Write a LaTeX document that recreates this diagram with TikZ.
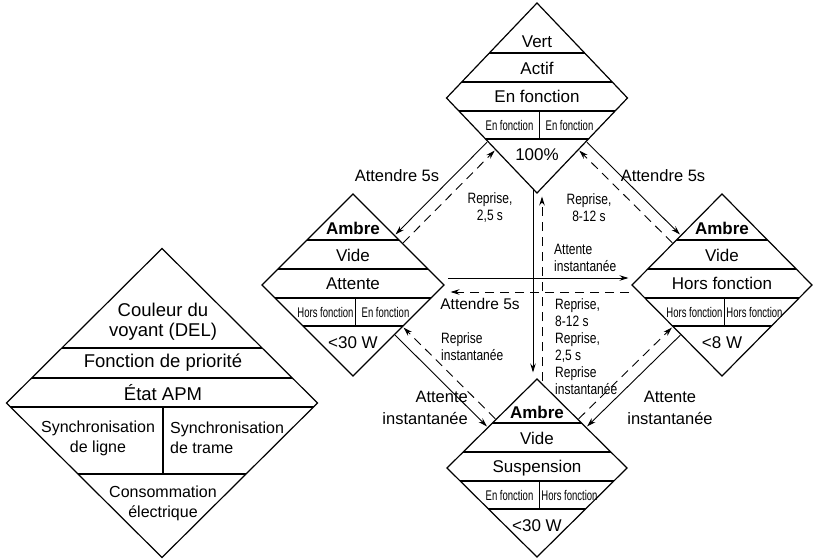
\documentclass[tikz,border=0pt]{standalone}
\usepackage{fontspec}
\setmainfont{Liberation Sans}
\usepackage{graphicx}
\usetikzlibrary{shapes.geometric,arrows.meta,calc}
\newcommand\cnd[1]{\scalebox{0.8}[1]{#1}}
\newcommand\sbx[1]{\scalebox{0.68}[1]{#1}}
\tikzset{
  stat/.style={diamond, draw, line width=1.2pt, inner sep=0pt, outer sep=0pt},
  sepline/.style={line width=1.2pt},
  st/.style={font=\fontsize{17}{20}\selectfont, inner sep=0pt, text height=12pt, text depth=0pt},
  subt/.style={font=\fontsize{14}{15}\selectfont, inner sep=0pt, text height=10pt, text depth=0pt},
  lg/.style={font=\fontsize{18.5}{20}\selectfont, inner sep=0pt, align=center},
  lgs/.style={font=\fontsize{16}{20}\selectfont, inner sep=0pt, align=center},
  lab/.style={font=\fontsize{16.5}{22}\selectfont, inner sep=0pt, align=center},
  cl/.style={font=\fontsize{15}{17}\selectfont, inner sep=0pt, align=center},
  sarr/.style={draw, line width=0.9pt, -{Stealth[length=9pt,width=5.5pt]}, shorten >=1.5pt, shorten <=1pt},
  darr/.style={sarr, dash pattern=on 9pt off 6pt}
}
\newcommand\stinner[7]{%
  \begin{scope}
    \clip (#1.north) -- (#1.east) -- (#1.south) -- (#1.west) -- cycle;
    \draw[sepline] ($(#1.center)+(-100,-45)$) -- ++(200,0)
      ($(#1.center)+(-100,-16)$) -- ++(200,0)
      ($(#1.center)+(-100,13)$) -- ++(200,0)
      ($(#1.center)+(-100,41)$) -- ++(200,0)
      ($(#1.center)+(2.5,13)$) -- ++(0,28);
  \end{scope}
  \node[st] (#1-a) at ($(#1.center)+(0,-56)$) {#2};
  \node[st] (#1-b) at ($(#1.center)+(0,-29.5)$) {#3};
  \node[st] (#1-c) at ($(#1.center)+(0,-1.5)$) {#4};
  \node[subt] (#1-d) at ($(#1.center)+(-27.5,27.5)$) {\sbx{#5}};
  \node[subt] (#1-e) at ($(#1.center)+(32.5,27.5)$) {\sbx{#6}};
  \node[st] (#1-f) at ($(#1.center)+(0,57)$) {#7};
}
\begin{document}
\begin{tikzpicture}[x=1pt, y=-1pt]
\useasboundingbox (0,0) rectangle (815,559);

% state diamonds
\node[stat, minimum width=181pt, minimum height=190pt] (T) at (537,98) {};
\node[stat, minimum width=182pt, minimum height=182pt] (L) at (353,285) {};
\node[stat, minimum width=180pt, minimum height=182pt] (R) at (722,285) {};
\node[stat, minimum width=180pt, minimum height=178pt] (B) at (537,468) {};

\stinner{T}{Vert}{Actif}{En fonction}{En fonction}{En fonction}{100\%}
\stinner{L}{\textbf{Ambre}}{Vide}{Attente}{Hors fonction}{En fonction}{<30 W}
\stinner{R}{\textbf{Ambre}}{Vide}{Hors fonction}{Hors fonction}{Hors fonction}{<8 W}
\stinner{B}{\textbf{Ambre}}{Vide}{Suspension}{En fonction}{Hors fonction}{<30 W}

% legend diamond
\node[stat, minimum width=311pt, minimum height=309pt] (G) at (162,403) {};
\begin{scope}
  \clip (G.north) -- (G.east) -- (G.south) -- (G.west) -- cycle;
  \draw[sepline] (0,348) -- (330,348) (0,378) -- (330,378) (0,407) -- (330,407)
    (0,474) -- (330,474) (163,407) -- (163,474);
\end{scope}
\node[lg] (g1) at (163,322) {Couleur du\\voyant (DEL)};
\node[lg] (g2) at (163,363) {Fonction de priorité};
\node[lg] (g3) at (163,393) {État APM};
\node[lgs] (g4) at (98,438) {Synchronisation\\de ligne};
\node[lgs, align=left, anchor=west] (g5) at (170,438) {Synchronisation\\de trame};
\node[lgs] (g6) at (163,503) {Consommation\\électrique};

% connectors: top <-> left
\draw[sarr] ($(T.south west)+(-4,-4)$) -- ($(L.north east)+(-4,-4)$);
\draw[darr] ($(L.north east)+(4,4)$) -- ($(T.south west)+(4,4)$);
% top <-> right
\draw[sarr] ($(T.south east)+(4,-4)$) -- ($(R.north west)+(4,-4)$);
\draw[darr] ($(R.north west)+(-4,4)$) -- ($(T.south east)+(-4,4)$);
% left <-> bottom
\draw[sarr] ($(L.south east)+(-4,4)$) -- ($(B.north west)+(-4,4)$);
\draw[darr] ($(B.north west)+(4,-4)$) -- ($(L.south east)+(4,-4)$);
% right <-> bottom
\draw[sarr] ($(R.south west)+(4,4)$) -- ($(B.north east)+(4,4)$);
\draw[darr] ($(B.north east)+(-4,-4)$) -- ($(R.south west)+(-4,-4)$);
% top <-> bottom
\draw[sarr] ($(T.south)+(-4,-4)$) -- ($(B.north)+(-4,-5)$);
\draw[darr] ($(B.north)+(5,3)$) -- ($(T.south)+(5,2)$);
% left <-> right
\draw[sarr] ($(L.east)+(3,-7)$) -- ($(R.west)+(-2,-7)$);
\draw[darr] ($(R.west)+(-2,7)$) -- ($(L.east)+(5,7)$);

% labels
\node[lab] (l1) at (397,176) {Attendre 5s};
\node[lab] (l2) at (663,176) {Attendre 5s};
\node[cl] (l3) at (490,208) {\cnd{Reprise,}\\\cnd{2,5 s}};
\node[cl] (l4) at (589,208) {\cnd{Reprise,}\\\cnd{8-12 s}};
\node[cl, align=left, anchor=west] (l5) at (554,258) {\cnd{Attente}\\\cnd{instantanée}};
\node[lab, font=\fontsize{15.5}{20}\selectfont] (l6) at (480,304) {Attendre 5s};
\node[cl, align=left, anchor=west] (l7) at (441,347) {\cnd{Reprise}\\\cnd{instantanée}};
\node[cl, align=left, anchor=west] (l8) at (555,347) {\cnd{Reprise,}\\\cnd{8-12 s}\\\cnd{Reprise,}\\\cnd{2,5 s}\\\cnd{Reprise}\\\cnd{instantanée}};
\node[lab, align=right, anchor=east] (l9) at (468,408) {Attente\\instantanée};
\node[lab] (l10) at (670,408) {Attente\\instantanée};
\end{tikzpicture}
\end{document}
